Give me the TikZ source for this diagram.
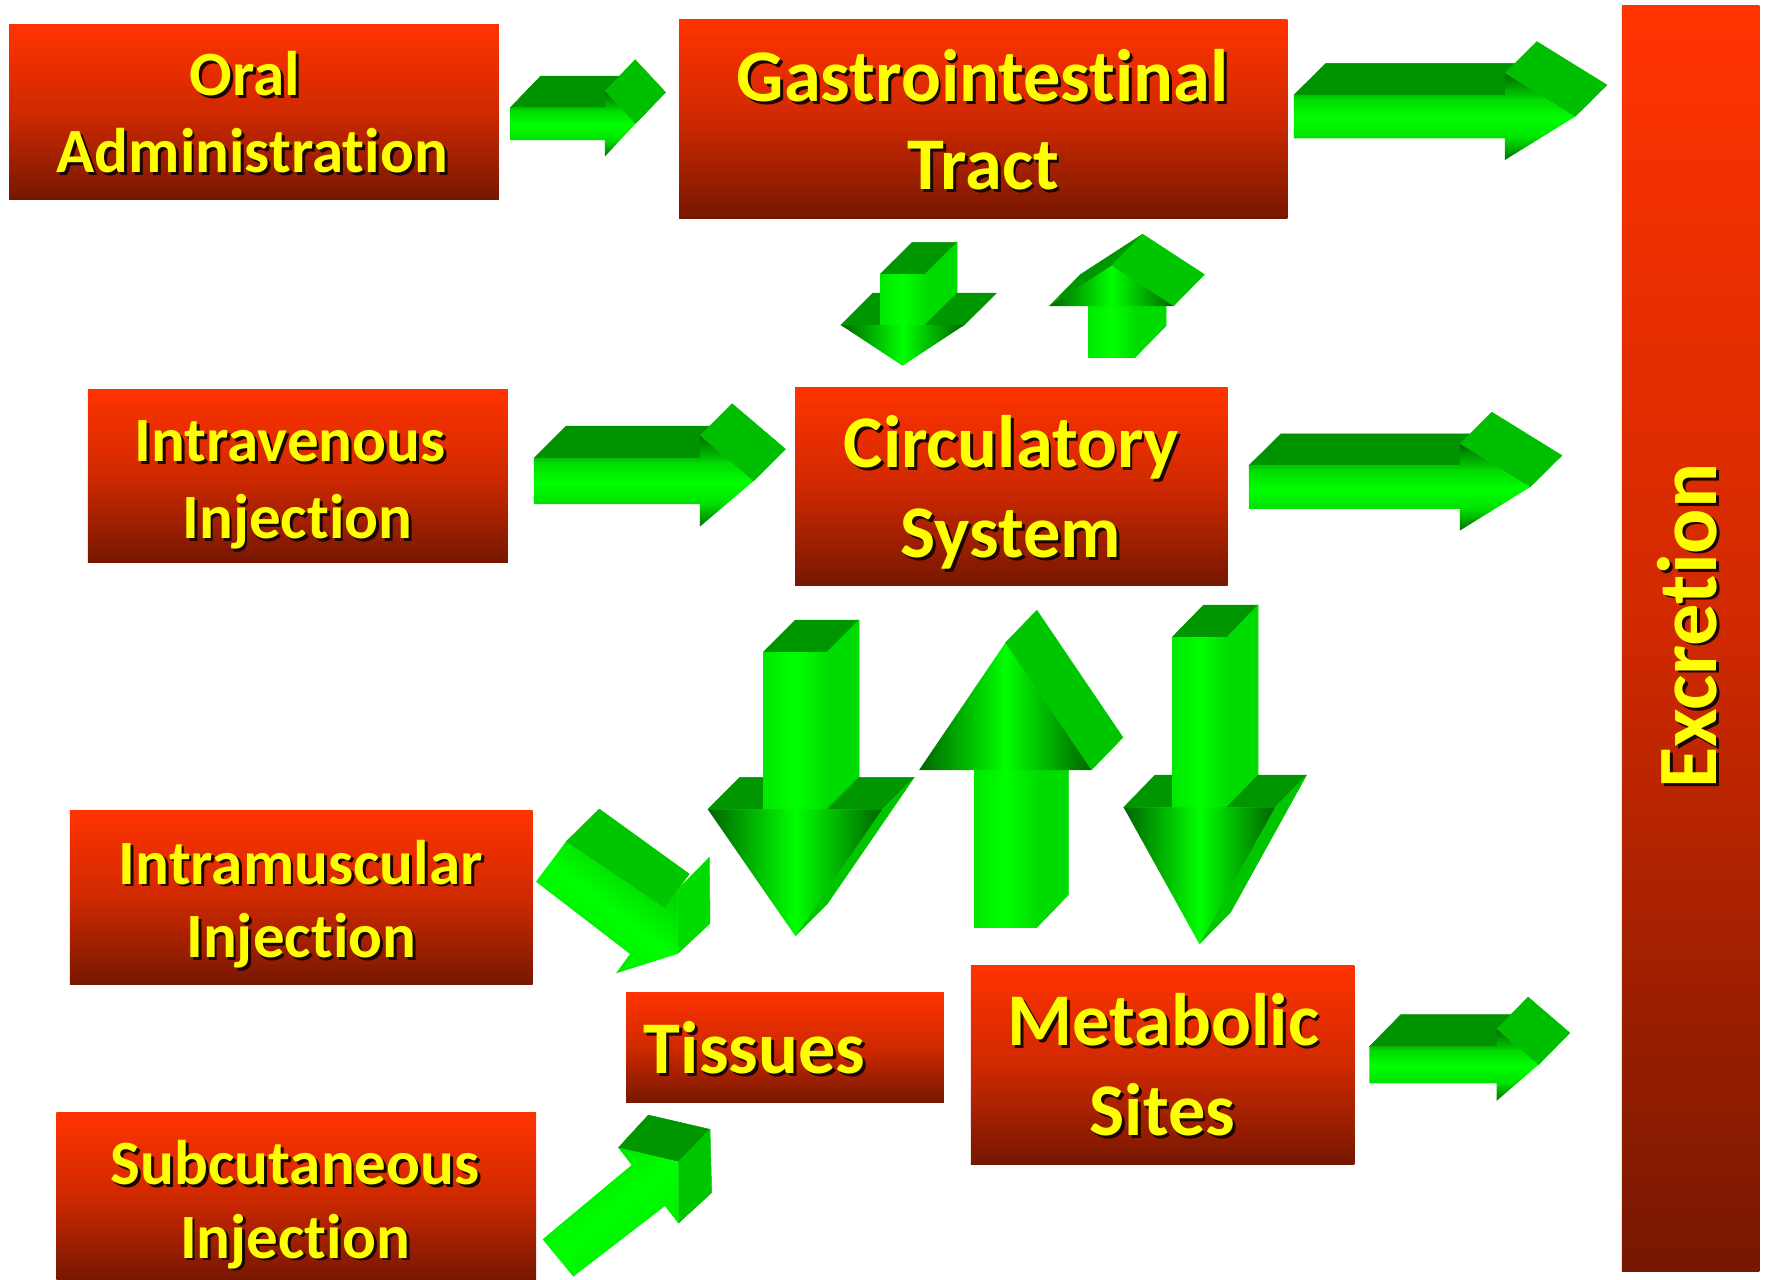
\documentclass[tikz,border=0pt]{standalone}
\usepackage{fontspec}
\setmainfont{Carlito}[Ligatures=NoCommon]
\definecolor{boxT}{HTML}{FF3300}
\definecolor{boxM}{HTML}{CF2900}
\definecolor{boxB}{HTML}{761700}
\definecolor{txty}{HTML}{FFFF00}
\definecolor{shdc}{HTML}{1A0500}
\definecolor{gBright}{HTML}{00FF00}
\definecolor{gTop}{HTML}{009600}
\definecolor{gTopR}{HTML}{009300}
\definecolor{gSide}{HTML}{00C600}
\definecolor{gSideR}{HTML}{00BE00}
\definecolor{gShaftR}{HTML}{00DC00}
\definecolor{gHd}{HTML}{006400}
\definecolor{gS1}{HTML}{00E800}
\definecolor{gS2}{HTML}{00DE00}
\definecolor{rA}{HTML}{007000}
\definecolor{rB}{HTML}{00E000}
\definecolor{rC}{HTML}{00FF00}
\definecolor{rD}{HTML}{00DC00}
\definecolor{rE}{HTML}{00C400}
\definecolor{rF}{HTML}{006800}
\pgfdeclareverticalshading{rarrow}{100bp}{color(0bp)=(rA); color(25bp)=(rA); color(37.5bp)=(rB); color(49bp)=(rC); color(60bp)=(rD); color(62.5bp)=(rE); color(75bp)=(rF); color(100bp)=(rF)}
\newcommand\txsh[1]{\leavevmode\rlap{\kern2.5pt\raisebox{-2.5pt}{\textcolor{shdc}{#1}}}#1}
\newcommand\txshr[1]{\leavevmode\rlap{\kern-2.5pt\raisebox{-2.5pt}{\textcolor{shdc}{#1}}}#1}
\newcommand\nlg{\kern0pt }
\begin{document}
\begin{tikzpicture}[x=1pt,y=-1pt,
  rbox/.style={rectangle, inner sep=0pt, outer sep=0pt, top color=boxT, bottom color=boxB, middle color=boxM},
  lblA/.style={text=txty, inner sep=0pt, anchor=base, font=\bfseries\fontsize{56}{60}\selectfont},
  lblB/.style={text=txty, inner sep=0pt, anchor=base, font=\bfseries\fontsize{66}{70}\selectfont},
  lblC/.style={text=txty, inner sep=0pt, anchor=base, font=\bfseries\fontsize{75}{80}\selectfont},
  fc/.style={fill=#1, draw=#1, line width=0.4pt, line join=round},
  rfront/.style={shading=rarrow},
  vshaft/.style={left color=gS1, right color=gS2, middle color=gBright},
  vhead/.style={left color=gHd, right color=gHd, middle color=gBright}]
\useasboundingbox (0,0) rectangle (1568,1136);
\fill[white] (0,0) rectangle (1568,1136);

% ---------- boxes ----------
\node[rbox, minimum width=435pt, minimum height=155pt] (oral) at (225.5,99.5) {};
\node[rbox, minimum width=540pt, minimum height=177pt] (gi) at (873,105.5) {};
\node[rbox, minimum width=373pt, minimum height=153pt] (iv) at (264.5,422.5) {};
\node[rbox, minimum width=384pt, minimum height=176pt] (circ) at (898,432) {};
\node[rbox, minimum width=411pt, minimum height=154pt] (im) at (267.5,797) {};
\node[rbox, minimum width=426pt, minimum height=148.5pt] (sc) at (263,1061.75) {};
\node[rbox, minimum width=282pt, minimum height=97.5pt] (tis) at (697,930.25) {};
\node[rbox, minimum width=340.5pt, minimum height=176.5pt] (met) at (1032.25,945.25) {};
\node[rbox, minimum width=122pt, minimum height=1124pt] (exc) at (1501,567) {};

% ---------- labels ----------
\node[lblA] (oral-1) at (217.5,85) {\txsh{Oral}};
\node[lblA] (oral-2) at (224,153) {\txsh{Administrat\nlg ion}};
\node[lblB] (gi-1) at (872.5,90) {\txsh{Gastrointest\nlg inal}};
\node[lblB] (gi-2) at (873,168) {\txsh{Tract}};
\node[lblA] (iv-1) at (257.5,410) {\txsh{Intravenous}};
\node[lblA] (iv-2) at (264,478) {\txsh{Inject\nlg ion}};
\node[lblB] (circ-1) at (898,415) {\txsh{Circulatory}};
\node[lblB] (circ-2) at (897.5,495) {\txsh{System}};
\node[lblA] (im-1) at (267,785) {\txsh{Intramuscular}};
\node[lblA] (im-2) at (267.5,850) {\txsh{Inject\nlg ion}};
\node[lblA] (sc-1) at (262,1052) {\txsh{Subcutaneous}};
\node[lblA] (sc-2) at (262,1117) {\txsh{Inject\nlg ion}};
\node[lblB] (tis-1) at (670,953) {\txsh{Tissues}};
\node[lblB] (met-1) at (1033,928) {\txsh{Metabolic}};
\node[lblB] (met-2) at (1032,1008) {\txsh{Sites}};
\node[lblC, rotate=90] (exc-1) at (1524,555.7) {\txshr{Excret\nlg ion}};

% ---------- arrow 1: oral -> GI ----------
\fill[fc=gTopR] (453,95.6)--(480,67.6)--(564,67.6)--(537,95.6)--cycle;
\fill[fc=gSideR] (537,81)--(564,110)--(591,82)--(564,53)--cycle;
\shade[rfront] (453,95.6)--(537,95.6)--(537,81)--(564,110)--(537,139)--(537,124.3)--(453,124.3)--cycle;

% ---------- arrow 2: GI -> excretion ----------
\begin{scope}
\fill[fc=gTopR] (1148.9,84.3)--(1177.3,56.2)--(1364.6,56.2)--(1336.2,84.3)--cycle;
\fill[fc=gSideR] (1336.2,65.05)--(1398.4,103.55)--(1426.8,75.45)--(1364.6,36.95)--cycle;
\shade[rfront] (1148.9,84.3)--(1336.2,84.3)--(1336.2,65.05)--(1398.4,103.55)--(1336.2,142.05)--(1336.2,122.8)--(1148.9,122.8)--cycle;
\end{scope}

% ---------- arrow 6: circulatory -> excretion ----------
\begin{scope}[shift={(-40,329)}]
\fill[fc=gTopR] (1148.9,84.3)--(1177.3,56.2)--(1364.6,56.2)--(1336.2,84.3)--cycle;
\fill[fc=gSideR] (1336.2,65.05)--(1398.4,103.55)--(1426.8,75.45)--(1364.6,36.95)--cycle;
\shade[rfront] (1148.9,84.3)--(1336.2,84.3)--(1336.2,65.05)--(1398.4,103.55)--(1336.2,142.05)--(1336.2,122.8)--(1148.9,122.8)--cycle;
\end{scope}

% ---------- arrow 5: IV -> circulatory ----------
\fill[fc=gTopR] (474.1,406.9)--(502.6,378.4)--(650,378.4)--(621.5,406.9)--cycle;
\fill[fc=gSideR] (621.5,386.9)--(668.9,427.2)--(697.4,398.7)--(650,358.4)--cycle;
\shade[rfront] (474.1,406.9)--(621.5,406.9)--(621.5,386.9)--(668.9,427.2)--(621.5,467.5)--(621.5,447.5)--(474.1,447.5)--cycle;

% ---------- arrow 12: metabolic -> excretion ----------
\fill[fc=gTopR] (1215.8,929.3)--(1243.8,900.8)--(1356.8,900.8)--(1328.8,929.3)--cycle;
\fill[fc=gSideR] (1328.8,913.75)--(1365.8,945.55)--(1393.8,917.05)--(1356.8,885.25)--cycle;
\shade[rfront] (1215.8,929.3)--(1328.8,929.3)--(1328.8,913.75)--(1365.8,945.55)--(1328.8,977.35)--(1328.8,961.8)--(1215.8,961.8)--cycle;

% ---------- arrow 3: GI -> circulatory (down) ----------
\fill[fc=gTop] (781.4,243.6)--(809.9,215.2)--(849.8,215.2)--(821.3,243.6)--cycle;
\fill[fc=gShaftR] (821.3,243.6)--(849.8,215.2)--(849.8,260.2)--(821.3,288.6)--cycle;
\fill[fc=gTop] (746.5,288.6)--(775,260.2)--(809.9,260.2)--(781.4,288.6)--cycle;
\fill[fc=gTop] (821.3,288.6)--(849.8,260.2)--(884.7,260.2)--(856.2,288.6)--cycle;
\shade[vshaft] (781.4,243.6) rectangle (821.3,288.9);
\shade[vhead] (746.5,288.6)--(856.2,288.6)--(801.35,324.7)--cycle;

% ---------- arrow 4: circulatory -> GI (up) ----------
\fill[fc=gShaftR] (1007.9,271.7)--(1035.4,243.7)--(1035.4,289.3)--(1007.9,317.3)--cycle;
\fill[fc=gTop] (931.8,271.7)--(959.3,243.7)--(1014.5,207.9)--(987,235.9)--cycle;
\fill[fc=gSide] (987,235.9)--(1014.5,207.9)--(1069.4,243.7)--(1041.9,271.7)--cycle;
\shade[vshaft] (966.3,271.4) rectangle (1007.9,317.3);
\shade[vhead] (931.8,271.7)--(987,235.9)--(1041.9,271.7)--cycle;

% ---------- arrow 7: circulatory -> tissues (down) ----------
\fill[fc=gTop] (677.8,578.9)--(706.2,550.5)--(762.8,550.5)--(734.4,578.9)--cycle;
\fill[fc=gShaftR] (734.4,578.9)--(762.8,550.5)--(762.8,690.2)--(734.4,718.6)--cycle;
\fill[fc=gTop] (628.4,718.6)--(656.8,690.2)--(706.2,690.2)--(677.8,718.6)--cycle;
\fill[fc=gTop] (734.4,718.6)--(762.8,690.2)--(811.7,690.2)--(783.3,718.6)--cycle;
\fill[fc=gSide] (783.3,718.6)--(811.7,690.2)--(734.5,802.6)--(706.1,831)--cycle;
\shade[vshaft] (677.8,578.9) rectangle (734.4,718.9);
\shade[vhead] (628.4,718.6)--(783.3,718.6)--(706.1,831)--cycle;

% ---------- arrow 8: tissues -> circulatory (up) ----------
\fill[fc=gShaftR] (920.5,683.7)--(948.5,654.7)--(948.5,794.6)--(920.5,823.6)--cycle;
\fill[fc=gSide] (892.6,570.8)--(920.6,541.8)--(997,654.7)--(969,683.7)--cycle;
\shade[vshaft] (864.8,683.4) rectangle (920.5,823.6);
\shade[vhead] (816,683.7)--(892.6,570.8)--(969,683.7)--cycle;

% ---------- arrow 9: circulatory -> metabolic sites (down) ----------
\fill[fc=gTop] (1040.6,565.9)--(1068.6,537.2)--(1117.1,537.2)--(1089.1,565.9)--cycle;
\fill[fc=gShaftR] (1089.1,565.9)--(1117.1,537.2)--(1117.1,688.1)--(1089.1,716.8)--cycle;
\fill[fc=gTop] (997.6,716.8)--(1025.6,688.1)--(1068.6,688.1)--(1040.6,716.8)--cycle;
\fill[fc=gTop] (1089.1,716.8)--(1117.1,688.1)--(1160.1,688.1)--(1132.1,716.8)--cycle;
\fill[fc=gSide] (1132.1,716.8)--(1160.1,688.1)--(1092.9,809.5)--(1064.9,838.2)--cycle;
\shade[vshaft] (1040.6,565.9) rectangle (1089.1,717.1);
\shade[vhead] (997.6,716.8)--(1132.1,716.8)--(1064.9,838.2)--cycle;

% ---------- arrow 10: intramuscular -> tissues ----------
\fill[fc=gSide] (502.5,747.3)--(532.1,718.3)--(612.0,776.0)--(601.4,790.2)--(590.4,806.5)--cycle;
\fill[fc=gShaftR] (601.4,790.2)--(629.8,761.2)--(630.4,819.8)--(601.4,847)--cycle;
\shade[top color=gSide, bottom color=gS2, middle color=gBright, shading angle=-37.6]
  (475.9,782.8)--(502.5,747.3)--(590.4,806.5)--(601.4,790.2)--(601.4,847)--(546.9,864.2)--(559.4,847)--cycle;

% ---------- arrow 11: subcutaneous -> tissues ----------
\fill[fc=gTop] (549.0,1019.0)--(575.6,990.0)--(630.4,1002.7)--(602.3,1031.4)--cycle;
\fill[fc=gSide] (602.3,1031.4)--(630.4,1002.7)--(631.9,1058.9)--(602.3,1086.1)--cycle;
\shade[top color=gShaftR, bottom color=gS1, middle color=gBright, shading angle=37.6]
  (481.8,1100.3)--(560.8,1034.4)--(549.0,1019.0)--(602.3,1031.4)--(602.3,1086.1)--(590.4,1070.8)--(509.0,1133.5)--cycle;
\end{tikzpicture}
\end{document}
